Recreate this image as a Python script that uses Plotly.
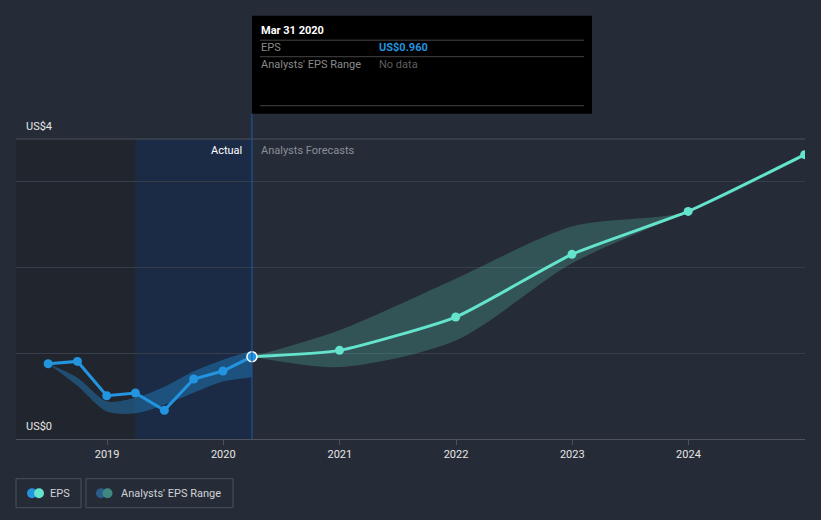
import plotly.graph_objects as go

# ---------------- data ----------------
past_dates = ["2018-06-30", "2018-09-30", "2018-12-31", "2019-03-31",
              "2019-06-30", "2019-09-30", "2019-12-31", "2020-03-31"]
past_eps = [0.878, 0.905, 0.505, 0.537, 0.334, 0.70, 0.793, 0.96]
past_low = [0.878, 0.62, 0.32, 0.30, 0.40, 0.54, 0.67, 0.72]
past_high = [0.878, 0.715, 0.44, 0.48, 0.61, 0.79, 0.925, 1.03]

fc_dates = ["2020-03-31", "2020-12-31", "2021-12-31", "2022-12-31",
            "2023-12-31", "2024-12-31"]
fc_eps = [0.96, 1.034, 1.423, 2.154, 2.655, 3.317]
fc_low = [0.96, 0.84, 1.15, 2.05, 2.655, 3.30]
fc_high = [0.96, 1.27, 1.87, 2.48, 2.655, 3.317]

year_ticks = ["2019-01-01", "2020-01-01", "2021-01-01", "2022-01-01",
              "2023-01-01", "2024-01-01"]
year_labels = ["2019", "2020", "2021", "2022", "2023", "2024"]
y_labels = ["US$0", "US$4"]

# ---------------- layout helpers ----------------
W, H = 821, 520
L, R, T, B = 16, 805, 139.3, 439.3
def px(x):
    return (x - L) / (R - L)
def py(y):
    return (B - y) / (B - T)

BG = "#262c37"
BLUE = "#2394df"
TEAL = "#64e3cd"
FONT = "Roboto"

fig = go.Figure()

# bands
fig.add_trace(go.Scatter(x=past_dates, y=past_low, mode="lines",
                         line=dict(width=0, shape="spline", smoothing=0.8),
                         hoverinfo="skip", showlegend=False))
fig.add_trace(go.Scatter(x=past_dates, y=past_high, mode="lines",
                         line=dict(width=0, shape="spline", smoothing=0.8),
                         fill="tonexty", fillcolor="rgba(35,148,223,0.38)",
                         hoverinfo="skip", showlegend=False))
fig.add_trace(go.Scatter(x=fc_dates, y=fc_low, mode="lines",
                         line=dict(width=0, shape="spline", smoothing=0.8),
                         hoverinfo="skip", showlegend=False))
fig.add_trace(go.Scatter(x=fc_dates, y=fc_high, mode="lines",
                         line=dict(width=0, shape="spline", smoothing=0.8),
                         fill="tonexty", fillcolor="rgba(100,227,205,0.22)",
                         hoverinfo="skip", showlegend=False))

# lines
fig.add_trace(go.Scatter(x=past_dates, y=past_eps, mode="lines+markers",
                         line=dict(color=BLUE, width=3),
                         marker=dict(size=9, color=BLUE),
                         name="EPS", showlegend=False))
fig.add_trace(go.Scatter(x=fc_dates, y=fc_eps, mode="lines+markers",
                         line=dict(color=TEAL, width=3, shape="spline", smoothing=0.5),
                         marker=dict(size=9, color=TEAL),
                         name="EPS forecast", showlegend=False))
fig.add_trace(go.Scatter(x=[past_dates[-1]], y=[past_eps[-1]], mode="markers",
                         marker=dict(size=10, color=BLUE, line=dict(color="white", width=1.5)),
                         showlegend=False))

shapes = []
# background regions
shapes.append(dict(type="rect", xref="x", yref="paper", x0="2018-03-01", x1="2019-03-31",
                   y0=0, y1=1, fillcolor="#21252d", line=dict(width=0), layer="below"))
shapes.append(dict(type="rect", xref="x", yref="paper", x0="2019-03-31", x1="2020-03-31",
                   y0=0, y1=1, fillcolor="#1b2a45", line=dict(width=0), layer="below"))
# top gridline
shapes.append(dict(type="line", xref="paper", yref="paper", x0=0, x1=1, y0=1, y1=1,
                   line=dict(color="#4a505b", width=1)))
# vertical divider
shapes.append(dict(type="line", xref="x", yref="paper", x0="2020-03-31", x1="2020-03-31",
                   y0=0, y1=py(114), line=dict(color="#1f5aa6", width=1)))
# tooltip box
shapes.append(dict(type="rect", xref="paper", yref="paper", x0=px(252), x1=px(592),
                   y0=py(114), y1=py(16), fillcolor="#000000", line=dict(width=0)))
for yy in (40.5, 57, 106):
    shapes.append(dict(type="line", xref="paper", yref="paper", x0=px(260), x1=px(584),
                       y0=py(yy), y1=py(yy), line=dict(color="#444", width=1)))
# legend boxes
for x0, x1 in ((16, 81), (86, 233)):
    shapes.append(dict(type="rect", xref="paper", yref="paper", x0=px(x0), x1=px(x1),
                       y0=py(508), y1=py(479), line=dict(color="#4b505a", width=1),
                       fillcolor="rgba(0,0,0,0)"))
def circ(cx, cy, r, color):
    return dict(type="circle", xref="paper", yref="paper",
                x0=px(cx - r), x1=px(cx + r), y0=py(cy + r), y1=py(cy - r),
                fillcolor=color, line=dict(width=0))
shapes.append(circ(32, 493.5, 5, BLUE))
shapes.append(circ(39, 493.5, 5, TEAL))
shapes.append(circ(101, 493.5, 5, "#2a5d8c"))
shapes.append(circ(107.5, 493.5, 5, "#3f8882"))

ann = []
def text(x, y, s, color, size=11, anchor="left", bold=False):
    ann.append(dict(xref="paper", yref="paper", x=px(x), y=py(y), text=("<b>%s</b>" % s) if bold else s,
                    showarrow=False, xanchor=anchor, yanchor="middle",
                    font=dict(family=FONT, size=size, color=color)))

text(24, 127, y_labels[1], "#e6e6e6", 11)
text(24, 427, y_labels[0], "#e6e6e6", 11)
text(244, 151, "Actual", "#ffffff", 11, anchor="right")
text(259, 151, "Analysts Forecasts", "#8a8f98", 11)
text(259, 31, "Mar 31 2020", "#ffffff", 11, bold=True)
text(259, 48, "EPS", "#8a8a8a", 11)
text(377, 48, "US$0.960", BLUE, 11, bold=True)
text(259, 65, "Analysts' EPS Range", "#8a8a8a", 11)
text(377, 65, "No data", "#5e5e5e", 11)
text(48, 493.5, "EPS", "#cfd2d6", 11)
text(119, 493.5, "Analysts' EPS Range", "#cfd2d6", 11)

fig.update_layout(
    width=W, height=H,
    margin=dict(l=L, r=W - R, t=T, b=H - B),
    paper_bgcolor=BG, plot_bgcolor=BG,
    showlegend=False,
    shapes=shapes, annotations=ann,
    font=dict(family=FONT, color="#e6e6e6"),
    xaxis=dict(type="date", range=["2018-03-21", "2025-01-01"],
               tickvals=year_ticks, ticktext=year_labels,
               showgrid=False, zeroline=False,
               showline=True, linecolor="#4d525c", linewidth=1,
               ticks="outside", ticklen=5, tickcolor="#4d525c",
               tickfont=dict(family=FONT, size=11, color="#e6e6e6")),
    yaxis=dict(range=[0, 3.5], tickvals=[1, 2, 3], showticklabels=False,
               gridcolor="#383e49", gridwidth=1, zeroline=False, showline=False),
)

fig.write_html("out.html", config={"displayModeBar": False},
               post_script="document.body.style.margin='0';document.body.style.background='%s';" % BG)
